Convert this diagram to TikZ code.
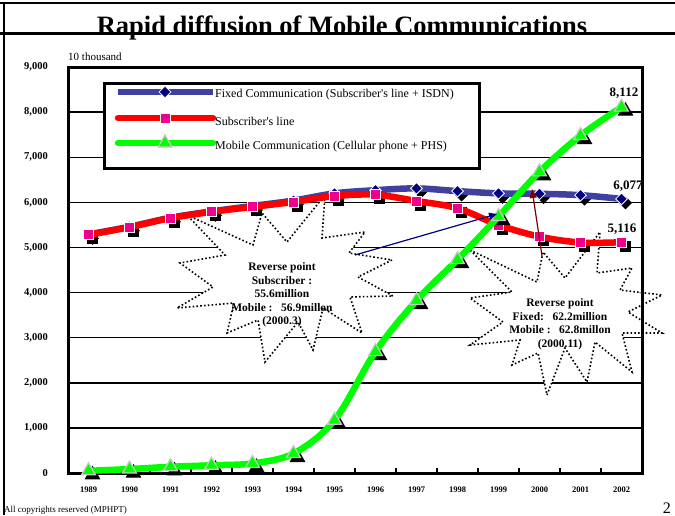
\documentclass[tikz,border=0pt]{standalone}
\usepackage{fontspec}
\setmainfont{Liberation Serif}
\usetikzlibrary{positioning,shapes.geometric,arrows.meta}

\definecolor{fixblue}{RGB}{64,64,160}
\definecolor{fixnavy}{RGB}{0,0,128}
\definecolor{leadmaroon}{RGB}{128,0,0}
\definecolor{mobgreen}{RGB}{0,255,0}
\definecolor{markgray}{RGB}{200,200,200}

\tikzset{
  ylab/.style={anchor=east,inner sep=0pt,font=\bfseries\fontsize{10.5}{10.5}\selectfont},
  yearlab/.style={inner sep=0pt,font=\bfseries\fontsize{8.5}{8.5}\selectfont},
  legtext/.style={anchor=west,inner sep=0pt,font=\fontsize{12}{12}\selectfont},
  gridline/.style={line width=1.5pt},
  fixline/.style={fixblue,line width=6.5pt,line join=round},
  subline/.style={red,line width=6.5pt,line cap=round,line join=round},
  mobline/.style={mobgreen,line width=6.5pt,line cap=round,line join=round},
  dmark/.style={diamond,fill=fixnavy,draw=white,line width=0.8pt,inner sep=0pt,minimum size=12pt},
  smark/.style={rectangle,fill=magenta,draw=white,line width=0.8pt,inner sep=0pt,minimum size=10pt},
  tmark/.style={regular polygon,regular polygon sides=3,fill=mobgreen,draw=markgray,line width=1.2pt,inner sep=0pt,minimum size=16pt},
  shade/.style={fill=black,draw=black},
  burst/.style={fill=white,draw=black,line width=1.6pt,dash pattern=on 1.6pt off 2.2pt},
  bursttext/.style={align=center,inner sep=0pt,font=\bfseries\fontsize{11.5}{13.5}\selectfont},
  vallab/.style={inner sep=0pt,font=\bfseries\fontsize{13}{13}\selectfont},
  navyleader/.style={fixnavy,line width=1.2pt,-{Triangle[length=8pt,width=7pt]}},
  maroonleader/.style={leadmaroon,line width=1.2pt,-{Triangle[length=9pt,width=7pt]}}
}

\def\fixdata{0/5290,1/5460,2/5660,3/5800,4/5920,5/6040,6/6200,7/6270,8/6310,9/6250,10/6200,11/6190,12/6160,13/6077}
\def\subdata{0/5280,1/5450,2/5650,3/5790,4/5900,5/6010,6/6140,7/6170,8/6030,9/5870,10/5500,11/5240,12/5110,13/5116}
\def\mobdata{0/49,1/87,2/138,3/171,4/213,5/433,6/1171,7/2691,8/3825,9/4731,10/5685,11/6678,12/7482,13/8112}

\begin{document}
\begin{tikzpicture}[x=1pt,y=-1pt]
    \useasboundingbox (0,0) rectangle (675,515);

    % page frame and title
    \draw[line width=1.5pt] (0,3) -- (675,3);
    \draw[line width=1.5pt] (4,3) -- (4,515);
    \draw[line width=3pt] (0,33) -- (675,33);
    \node[anchor=base,inner sep=0pt,font=\bfseries\fontsize{26.5}{26.5}\selectfont] (title) at (342,34) {Rapid diffusion of Mobile Communications};
    \node[anchor=west,inner sep=0pt,font=\fontsize{11}{11}\selectfont] (unit) at (68,57) {10 thousand};

    \coordinate (org) at (88.5,473);

    % grid
    \begin{scope}[shift={(org)},x=41pt,y=0.0451pt]
        \foreach \v in {1000,2000,...,8000}
            \draw[gridline] (-0.5,\v) -- (13.5,\v);
    \end{scope}

    % reverse point call-outs
    \draw[burst] (187,215) -- (253,245) -- (262,213) -- (287,242) -- (325,195) -- (322,238)
        -- (365,232) -- (349,253) -- (392,260) -- (358,277) -- (393,296) -- (350,297)
        -- (362,333) -- (323,308) -- (313,350) -- (298,322) -- (265,362) -- (258,320)
        -- (227,333) -- (234,303) -- (177,308) -- (213,287) -- (180,263) -- (225,255) -- cycle;
    \draw[burst] (470,250) -- (537,282) -- (543,252) -- (565,278) -- (600,232) -- (597,273)
        -- (632,268) -- (620,290) -- (662,295) -- (628,312) -- (662,333) -- (622,333)
        -- (632,372) -- (595,342) -- (587,382) -- (565,348) -- (547,395) -- (538,353)
        -- (512,365) -- (520,340) -- (470,345) -- (503,322) -- (470,298) -- (512,292) -- cycle;

    % legend
    \node[draw,line width=2.5pt,fill=white,minimum width=375pt,minimum height=85pt,anchor=north west] (legend) at (103,82) {};
    \draw[fixline] (118,92) -- (213,92);
    \node[dmark] (legfixm) at (165,92) {};
    \draw[subline] (118,118) -- (213,118);
    \node[smark] (legsubm) at (165,118) {};
    \draw[mobline] (118,143) -- (213,143);
    \node[tmark] (legmobm) at (165,143) {};
    \node[legtext] (legfix) at (215,95) {Fixed Communication (Subscriber\textquotesingle s line + ISDN)};
    \node[legtext] (legsub) at (215,121) {Subscriber\textquotesingle s line};
    \node[legtext] (legmob) at (215,147) {Mobile Communication (Cellular phone + PHS)};

    \begin{scope}[shift={(org)},x=41pt,y=0.0451pt]
        % axes
        \draw[line width=3pt] (-0.5,0) rectangle (13.5,9000);
        \foreach \k in {0,...,12}
            \draw[line width=1.2pt] (\k+0.5,0) -- ++(0pt,5pt);
        \foreach \v/\lab in {0/0,1000/{1,000},2000/{2,000},3000/{3,000},4000/{4,000},5000/{5,000},6000/{6,000},7000/{7,000},8000/{8,000},9000/{9,000}}
            \node[ylab,xshift=-20pt] (y\v) at (-0.5,\v) {\lab};
        \foreach \i in {0,...,13} {
            \pgfmathtruncatemacro\yr{1989+\i}
            \node[yearlab,yshift=-17pt] (yr\i) at (\i,0) {\yr};
        }

        % fixed communication
        \foreach \i/\v in \fixdata
            \node[dmark,shade] (fixs\i) at ([shift={(4pt,-4pt)}]\i,\v) {};
        \draw[fixline] plot[smooth,tension=0.55] coordinates {(0,5290) (1,5460) (2,5660) (3,5800) (4,5920) (5,6040) (6,6200) (7,6270) (8,6310) (9,6250) (10,6200) (11,6190) (12,6160) (13,6077)};
        \foreach \i/\v in \fixdata
            \node[dmark] (fix\i) at (\i,\v) {};

        % subscriber's line
        \foreach \i/\v in \subdata
            \node[smark,shade] (subs\i) at ([shift={(4pt,-4pt)}]\i,\v) {};
        \draw[subline] plot[smooth,tension=0.55] coordinates {(0,5280) (1,5450) (2,5650) (3,5790) (4,5900) (5,6010) (6,6140) (7,6170) (8,6030) (9,5870) (10,5500) (11,5240) (12,5110) (13,5116)};
        \foreach \i/\v in \subdata
            \node[smark] (sub\i) at (\i,\v) {};

        % mobile communication
        \foreach \i/\v in \mobdata
            \node[tmark,shade] (mobs\i) at ([shift={(4pt,-4pt)}]\i,\v) {};
        \draw[mobline] plot[smooth,tension=0.55] coordinates {(0,49) (1,87) (2,138) (3,171) (4,213) (5,433) (6,1171) (7,2691) (8,3825) (9,4731) (10,5685) (11,6678) (12,7482) (13,8112)};
        \foreach \i/\v in \mobdata
            \node[tmark] (mob\i) at (\i,\v) {};
    \end{scope}

    % end values
    \node[vallab] (v8112) at (624,93) {8,112};
    \node[vallab] (v6077) at (628,186) {6,077};
    \node[vallab] (v5116) at (622,229) {5,116};

    % call-out texts and leaders
    \node[bursttext] (subrev) at (282,295) {Reverse point\\Subscriber :\\55.6million\\Mobile :\ \ \ 56.9millon\\(2000.3)};
    \node[bursttext] (fixrev) at (560,324) {Reverse point\\Fixed:\ \ \ 62.2million\\Mobile :\ \ \ 62.8millon\\(2000.11)};
    \coordinate (subA) at (355,255);
    \coordinate (subX) at (497,214);
    \draw[navyleader] (subA) -- (subX);
    \coordinate (fixA) at (542,256);
    \coordinate (fixX) at (532,189);
    \draw[maroonleader] (fixA) -- (fixX);

    % footer
    \node[anchor=base west,inner sep=0pt,font=\fontsize{9}{9}\selectfont] (copy) at (4,512) {All copyrights reserved (MPHPT)};
    \node[anchor=base east,inner sep=0pt,font=\fontsize{16}{16}\selectfont] (page) at (671,513) {2};
\end{tikzpicture}
\end{document}
